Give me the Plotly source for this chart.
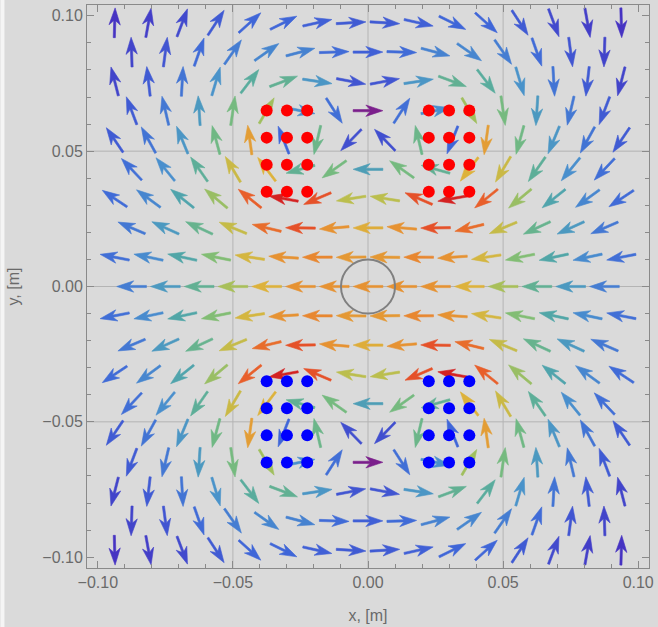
import numpy as np
import plotly.graph_objects as go

# ---------------- data ----------------
# arrow sample rows (hexagonal mesh) and columns
ROW_Y = [-0.09743, -0.08660, -0.07578, -0.06495, -0.05413, -0.04330, -0.03248,
         -0.02165, -0.01083, 0.0, 0.01083, 0.02165, 0.03248, 0.04330, 0.05413,
         0.06495, 0.07578, 0.08660, 0.09743]
ROW_PARITY = [1, 0, 1, 0, 1, 0, 1, 0, 1, 0, 1, 0, 1, 0, 1, 0, 1, 0, 1]
EVEN_X = [-0.0875, -0.075, -0.0625, -0.05, -0.0375, -0.025, -0.0125, 0.0,
          0.0125, 0.025, 0.0375, 0.05, 0.0625, 0.075, 0.0875]
ODD_X = [-0.09375, -0.08125, -0.06875, -0.05625, -0.04375, -0.03125, -0.01875,
         -0.00625, 0.00625, 0.01875, 0.03125, 0.04375, 0.05625, 0.06875,
         0.08125, 0.09375]

# conductors (dots); each dot carries current spread over its cell
WIRE_COL_X = [-0.0375, -0.03, -0.0225, 0.0225, 0.03, 0.0375]
RED_ROW_Y = [0.035, 0.045, 0.055, 0.065]
BLUE_ROW_Y = [-0.035, -0.045, -0.055, -0.065]
RED_CURRENT = -1.0
BLUE_CURRENT = 1.0
CELL_W = 0.0075
CELL_H = 0.010

CIRCLE_R = 0.01
GRID_LINES = [-0.05, 0.0, 0.05]
TICK_VALS = [-0.10, -0.05, 0.0, 0.05, 0.10]
TICK_TEXT = ["\u22120.10", "\u22120.05", "0.00", "0.05", "0.10"]

# rainbow colour stops (low -> high field)
CMAP_POS = [0.0, 0.09, 0.20, 0.32, 0.42, 0.52, 0.62, 0.72, 0.82, 0.91, 1.0]
CMAP_RGB = [(123, 31, 140), (68, 52, 196), (63, 102, 216), (74, 146, 204),
            (82, 168, 164), (120, 188, 124), (180, 192, 80), (220, 180, 60),
            (232, 138, 48), (232, 90, 42), (212, 34, 34)]

# ---------------- field of the conductors ----------------
NSUB = 8
fil_x, fil_y, fil_c = [], [], []
for rows, cur in ((RED_ROW_Y, RED_CURRENT), (BLUE_ROW_Y, BLUE_CURRENT)):
    for yc in rows:
        for xc in WIRE_COL_X:
            for i in range(NSUB):
                for j in range(NSUB):
                    fil_x.append(xc - CELL_W / 2 + (i + 0.5) * CELL_W / NSUB)
                    fil_y.append(yc - CELL_H / 2 + (j + 0.5) * CELL_H / NSUB)
                    fil_c.append(cur / NSUB ** 2)
fil_x = np.array(fil_x)
fil_y = np.array(fil_y)
fil_c = np.array(fil_c)
R_FIL = 0.6 * CELL_W / NSUB


def field(px, py):
    rx, ry = px - fil_x, py - fil_y
    r2 = np.maximum(rx * rx + ry * ry, R_FIL ** 2)
    return float(np.sum(-fil_c * ry / r2)), float(np.sum(fil_c * rx / r2))


pts = []
for y, par in zip(ROW_Y, ROW_PARITY):
    for x in (ODD_X if par else EVEN_X):
        bx, by = field(x, y)
        pts.append((x, y, bx, by, np.hypot(bx, by)))

mags = np.array([p[4] for p in pts])
mn, mx = mags.min(), mags.max()


def cmap(t):
    t = min(max(t, 0.0), 1.0)
    for i in range(len(CMAP_POS) - 1):
        if t <= CMAP_POS[i + 1]:
            f = (t - CMAP_POS[i]) / (CMAP_POS[i + 1] - CMAP_POS[i])
            c0, c1 = CMAP_RGB[i], CMAP_RGB[i + 1]
            return tuple(int(round(c0[k] + f * (c1[k] - c0[k]))) for k in range(3))
    return CMAP_RGB[-1]


L = 0.0110      # arrow length
HL = 0.0063     # head length
HW = 0.0021     # head half-width
NOTCH = 0.0048  # neck distance from tip
SW = 0.00040    # shaft half-width
NBINS = 80

bins = {}
for x, y, bx, by, m in pts:
    t = (m - mn) / (mx - mn)
    b = int(round(t * NBINS))
    ux, uy = bx / m, by / m
    nx, ny = -uy, ux
    tipx, tipy = x + ux * L / 2, y + uy * L / 2
    tx, ty = x - ux * L / 2, y - uy * L / 2
    neckx, necky = tipx - ux * NOTCH, tipy - uy * NOTCH
    bax, bay = tipx - ux * HL, tipy - uy * HL
    poly = [
        (tx + nx * SW, ty + ny * SW),
        (neckx + nx * SW, necky + ny * SW),
        (bax + nx * HW, bay + ny * HW),
        (tipx, tipy),
        (bax - nx * HW, bay - ny * HW),
        (neckx - nx * SW, necky - ny * SW),
        (tx - nx * SW, ty - ny * SW),
        (tx + nx * SW, ty + ny * SW),
    ]
    d = bins.setdefault(b, ([], []))
    for px, py in poly:
        d[0].append(px)
        d[1].append(py)
    d[0].append(None)
    d[1].append(None)

fig = go.Figure()
for b in sorted(bins):
    xs, ys = bins[b]
    col = "rgb(%d,%d,%d)" % cmap(b / NBINS)
    fig.add_trace(go.Scatter(x=xs, y=ys, mode="lines", fill="toself",
                             fillcolor=col, line=dict(width=0.6, color=col),
                             hoverinfo="skip", showlegend=False))

rx, ry, bxs, bys = [], [], [], []
for y in RED_ROW_Y:
    for x in WIRE_COL_X:
        rx.append(x)
        ry.append(y)
for y in BLUE_ROW_Y:
    for x in WIRE_COL_X:
        bxs.append(x)
        bys.append(y)
fig.add_trace(go.Scatter(x=rx, y=ry, mode="markers",
                         marker=dict(size=12, color="#ff0000", line=dict(width=0)),
                         showlegend=False, hoverinfo="skip"))
fig.add_trace(go.Scatter(x=bxs, y=bys, mode="markers",
                         marker=dict(size=12, color="#0000ff", line=dict(width=0)),
                         showlegend=False, hoverinfo="skip"))

shapes = []
for g in GRID_LINES:
    shapes.append(dict(type="line", xref="x", yref="paper", x0=g, x1=g, y0=0, y1=1,
                       line=dict(color="#b4b4b4", width=1), layer="below"))
    shapes.append(dict(type="line", xref="paper", yref="y", x0=0, x1=1, y0=g, y1=g,
                       line=dict(color="#b4b4b4", width=1), layer="below"))
shapes.append(dict(type="circle", xref="x", yref="y", x0=-CIRCLE_R, x1=CIRCLE_R,
                   y0=-CIRCLE_R, y1=CIRCLE_R, line=dict(color="#808080", width=2),
                   layer="above"))
shapes.append(dict(type="rect", xref="paper", yref="paper", x0=-87 / 565, x1=-83 / 565,
                   y0=-2, y1=2, fillcolor="#f5f5f5", line=dict(width=0), layer="below"))

FONT = "Liberation Sans, Arial, sans-serif"
axis_common = dict(
    range=[-0.104, 0.104], showgrid=False, zeroline=False,
    showline=True, linecolor="#8a8a8a", linewidth=1, mirror="allticks",
    ticks="inside", ticklen=7, tickcolor="#8a8a8a", tickwidth=1,
    tickvals=TICK_VALS, ticktext=TICK_TEXT,
    tickfont=dict(family=FONT, size=16, color="#6a6a6a"),
    minor=dict(ticks="inside", ticklen=4, tickcolor="#8a8a8a", dtick=0.01,
               tick0=0, showgrid=False),
)

fig.update_layout(
    width=658, height=627,
    margin=dict(l=87, r=6, t=4, b=59),
    paper_bgcolor="#dadada", plot_bgcolor="#dadada",
    shapes=shapes,
    xaxis=dict(axis_common, title=dict(text="x, [m]", standoff=19,
               font=dict(family=FONT, size=16, color="#6a6a6a"))),
    yaxis=dict(axis_common, title=dict(text="y, [m]", standoff=18,
               font=dict(family=FONT, size=16, color="#6a6a6a"))),
)

fig.write_html("out.html")
